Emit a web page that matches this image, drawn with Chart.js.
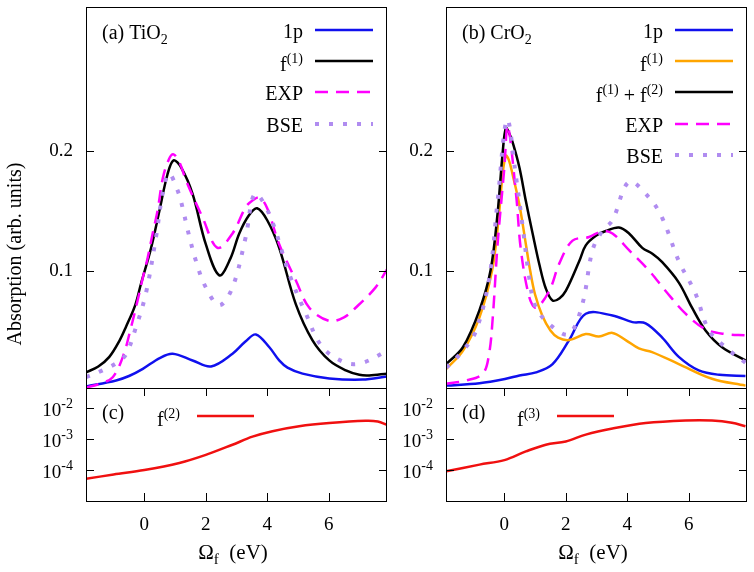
<!DOCTYPE html>
<html>
<head>
<meta charset="utf-8">
<script src="https://cdn.jsdelivr.net/npm/chart.js@4.4.1/dist/chart.umd.min.js"></script>
<style>
  html, body { margin: 0; padding: 0; background: #fff; }
  #fig { position: relative; width: 754px; height: 572px; overflow: hidden; }
  #fig canvas { position: absolute; }
</style>
</head>
<body>
<div id="fig">
  <canvas id="cA" width="390" height="390" style="left:0;top:0"></canvas>
  <canvas id="cB" width="390" height="390" style="left:360px;top:0"></canvas>
  <canvas id="cC" width="390" height="184" style="left:0;top:388px"></canvas>
  <canvas id="cD" width="390" height="184" style="left:360px;top:388px"></canvas>
</div>
<script>
// axis ranges / ticks
const eMin = -1.9, eMax = 7.9;
const energyTicks = [0, 2, 4, 6];
const absTicks = [0.1, 0.2];
const ratioTicks = [1e-4, 1e-3, 1e-2];

// (a) TiO2
const ti1pE = [-1.9, -0.92, -0.5, -0.05, 0.5, 0.92, 1.57, 2.17, 2.87, 3.3, 3.63, 4.07, 4.39, 4.66, 5.15, 6.02, 7.1, 7.9];
const ti1pA = [0.0033, 0.0083, 0.012, 0.018, 0.027, 0.0306, 0.025, 0.020, 0.0306, 0.041, 0.0467, 0.036, 0.025, 0.019, 0.014, 0.010, 0.009, 0.0117];
const tiF1E = [-1.9, -1.5, -1.14, -0.8, -0.6, -0.3, -0.11, 0.22, 0.49, 0.75, 0.95, 1.2, 1.57, 2.0, 2.44, 2.8, 3.09, 3.4, 3.67, 4.0, 4.39, 4.93, 5.47, 6.02, 6.56, 7.0, 7.32, 7.9];
const tiF1A = [0.015, 0.02, 0.028, 0.042, 0.053, 0.071, 0.089, 0.119, 0.15, 0.18, 0.192, 0.186, 0.164, 0.122, 0.096, 0.11, 0.131, 0.146, 0.152, 0.142, 0.119, 0.072, 0.042, 0.025, 0.0167, 0.013, 0.0125, 0.014];
const tiExpE = [-1.9, -1.4, -1.03, -0.7, -0.43, -0.22, -0.05, 0.11, 0.27, 0.43, 0.6, 0.8, 0.95, 1.15, 1.36, 1.9, 2.38, 2.87, 3.3, 3.5, 3.75, 4.0, 4.39, 4.93, 5.37, 6.02, 6.5, 6.88, 7.53, 7.9];
const tiExpA = [0.0022, 0.006, 0.011, 0.028, 0.053, 0.075, 0.094, 0.111, 0.131, 0.15, 0.177, 0.193, 0.197, 0.19, 0.175, 0.144, 0.119, 0.131, 0.153, 0.158, 0.161, 0.152, 0.122, 0.092, 0.069, 0.058, 0.061, 0.069, 0.086, 0.101];
const tiBseE = [-1.9, -1.36, -0.9, -0.6, -0.27, 0.05, 0.38, 0.6, 0.8, 1.08, 1.25, 1.4, 1.68, 2.0, 2.44, 2.87, 3.3, 3.6, 4.07, 4.72, 5.26, 5.8, 6.56, 7.1, 7.9];
const tiBseA = [0.011, 0.0167, 0.023, 0.03, 0.053, 0.081, 0.128, 0.165, 0.181, 0.167, 0.152, 0.135, 0.108, 0.086, 0.071, 0.086, 0.128, 0.164, 0.147, 0.097, 0.064, 0.036, 0.023, 0.023, 0.033];

// (b) CrO2
const cr1pE = [-1.89, -0.81, 0.05, 0.49, 1.03, 1.57, 2.11, 2.65, 3.52, 4.17, 4.6, 5.14, 5.68, 6.33, 7.0, 7.85];
const cr1pA = [0.004, 0.006, 0.0097, 0.0125, 0.015, 0.022, 0.042, 0.064, 0.0625, 0.057, 0.056, 0.044, 0.028, 0.0167, 0.013, 0.012];
const crF1E = [-1.89, -1.35, -0.81, -0.4, -0.2, -0.05, 0.05, 0.15, 0.27, 0.49, 0.7, 0.84, 1.0, 1.24, 1.5, 1.75, 2.11, 2.65, 3.08, 3.52, 3.95, 4.38, 4.81, 5.68, 6.76, 7.85];
const crF1A = [0.018, 0.033, 0.061, 0.1, 0.14, 0.182, 0.196, 0.192, 0.18, 0.155, 0.122, 0.1, 0.08, 0.062, 0.05, 0.044, 0.042, 0.047, 0.045, 0.048, 0.042, 0.035, 0.032, 0.022, 0.0097, 0.004];
const crF12E = [-1.89, -1.35, -0.81, -0.45, -0.22, -0.05, 0.05, 0.15, 0.27, 0.49, 0.7, 0.92, 1.15, 1.35, 1.57, 1.8, 2.0, 2.44, 2.65, 2.98, 3.3, 3.73, 4.06, 4.49, 4.82, 5.14, 5.68, 6.11, 6.55, 7.09, 7.85];
const crF12A = [0.022, 0.036, 0.067, 0.1, 0.148, 0.2, 0.219, 0.215, 0.207, 0.186, 0.158, 0.131, 0.104, 0.085, 0.075, 0.077, 0.083, 0.108, 0.121, 0.129, 0.133, 0.136, 0.131, 0.119, 0.114, 0.107, 0.09, 0.069, 0.05, 0.036, 0.025];
const crExpE = [-1.89, -1.24, -0.7, -0.5, -0.38, -0.22, 0, 0.11, 0.38, 0.54, 0.81, 1.03, 1.46, 1.79, 2.22, 2.76, 3.19, 3.52, 4.06, 4.71, 5.25, 5.9, 6.55, 7.2, 7.85];
const crExpA = [0.0055, 0.0083, 0.014, 0.03, 0.06, 0.122, 0.186, 0.221, 0.164, 0.117, 0.078, 0.069, 0.083, 0.106, 0.125, 0.128, 0.133, 0.131, 0.117, 0.1, 0.083, 0.064, 0.051, 0.047, 0.046];
const crBseE = [-1.89, -1.35, -0.92, -0.49, -0.22, 0.09, 0.38, 0.6, 0.81, 1.03, 1.57, 2.11, 2.54, 2.87, 3.19, 3.52, 4.06, 4.71, 5.14, 5.68, 6.22, 6.66, 7.2, 7.85];
const crBseA = [0.019, 0.033, 0.05, 0.094, 0.158, 0.226, 0.178, 0.136, 0.094, 0.069, 0.053, 0.047, 0.072, 0.117, 0.133, 0.142, 0.174, 0.161, 0.144, 0.108, 0.081, 0.05, 0.036, 0.023];

// (c) f(2), (d) f(3)
const tiF2E = [-1.9, -1.0, 0, 1.14, 2.0, 2.87, 3.52, 4.17, 5.04, 6.02, 7.2, 7.6, 7.9];
const tiF2A = [5.2e-5, 7.2e-5, 1.0e-4, 1.7e-4, 3.1e-4, 6.6e-4, 1.2e-3, 1.8e-3, 2.6e-3, 3.3e-3, 3.9e-3, 3.7e-3, 2.9e-3];
const crF3E = [-1.89, -0.81, 0, 0.7, 1.35, 2.0, 2.65, 3.52, 4.6, 5.9, 6.76, 7.41, 7.85];
const crF3A = [9.1e-5, 1.5e-4, 2.1e-4, 4.0e-4, 6.6e-4, 8.4e-4, 1.4e-3, 2.2e-3, 3.3e-3, 4.0e-3, 4.0e-3, 3.4e-3, 2.6e-3];

const FONT = '"Liberation Serif", "Times New Roman", serif';
const C_BLUE = "#1010ee", C_BLACK = "#000000", C_MAG = "#ff00ff", C_BSE = "#b08cf0", C_ORANGE = "#ffa500", C_RED = "#f01010";
const DASH_EXP = [13, 8], DASH_BSE = [4, 10];

// text with super/subscripts: parts = [[text, "sup"|"sub"|undefined], ...]
function rich(ctx, parts, x, y, align, size){
  size = size || 20;
  const small = Math.round(size * 0.72);
  const fnt = k => `${k ? small : size}px ${FONT}`;
  let w = 0;
  parts.forEach(([t,k]) => { ctx.font = fnt(k); w += ctx.measureText(t).width; });
  let cx = align === "right" ? x - w : align === "center" ? x - w/2 : x;
  ctx.textAlign = "left"; ctx.textBaseline = "alphabetic";
  parts.forEach(([t,k]) => {
    ctx.font = fnt(k);
    const dy = k === "sup" ? -8 : k === "sub" ? 5 : 0;
    ctx.fillText(t, cx, y + dy);
    cx += ctx.measureText(t).width;
  });
}

function line(ctx, x0, y0, x1, y1){
  ctx.beginPath(); ctx.moveTo(x0, y0); ctx.lineTo(x1, y1); ctx.stroke();
}

// frame with inward mirrored ticks, key, panel tag and axis titles
function makeFrame(spec){
  return {
    id: "frame",
    afterDraw(chart){
      const {ctx, chartArea: a, scales} = chart;
      ctx.save();
      ctx.strokeStyle = "#000"; ctx.lineWidth = 1; ctx.setLineDash([]);
      ctx.strokeRect(a.left + 0.5, a.top + 0.5, a.right - a.left - 1, a.bottom - a.top);
      const tl = 8;
      scales.y.ticks.forEach(t => {
        const p = Math.round(scales.y.getPixelForValue(t.value)) + 0.5;
        line(ctx, a.left, p, a.left + tl, p);
        line(ctx, a.right, p, a.right - tl, p);
      });
      if(spec.xTicks){
        scales.x.ticks.forEach(t => {
          const p = Math.round(scales.x.getPixelForValue(t.value)) + 0.5;
          line(ctx, p, a.top, p, a.top + tl);
          line(ctx, p, a.bottom, p, a.bottom - tl);
        });
      }
      ctx.fillStyle = "#000";
      if(spec.logLabels){
        scales.y.ticks.forEach(t => {
          const p = scales.y.getPixelForValue(t.value);
          const ex = Math.round(Math.log10(t.value));
          ctx.fillStyle = "#000";
          rich(ctx, [["10"], [String(ex), "sup"]], a.left - 13, p + 8, "right", 19);
        });
      }
      // panel tag
      rich(ctx, spec.tag, spec.tagX, spec.tagY, "left");
      // key
      spec.keys.forEach(k => {
        ctx.fillStyle = "#000";
        const hasSup = k.parts.some(p => p[1] === "sup");
        rich(ctx, k.parts, spec.keyTextX, k.y + (hasSup ? 10 : 8), spec.keyAlign);
        ctx.strokeStyle = k.color; ctx.lineWidth = k.width; ctx.lineCap = "butt";
        ctx.setLineDash(k.dash || []);
        line(ctx, spec.keyX0, k.y, spec.keyX1, k.y);
        ctx.setLineDash([]);
      });
      ctx.fillStyle = "#000";
      if(spec.yTitle){
        ctx.save();
        ctx.translate(16, 254);
        ctx.rotate(-Math.PI/2);
        ctx.font = `20px ${FONT}`;
        ctx.textAlign = "center"; ctx.textBaseline = "middle";
        ctx.fillText("Absorption (arb. units)", 0, 0);
        ctx.restore();
      }
      if(spec.xTitle){
        rich(ctx, [["Ω"], ["f", "sub"], ["  (eV)"]], 233, 171, "center", 21);
      }
      ctx.restore();
    }
  };
}

function ds(label, E, A, color, dash, width){
  return {
    label, data: E.map((e, i) => ({x: e, y: A[i]})),
    borderColor: color, borderWidth: width || 2.5, borderDash: dash || [],
    borderCapStyle: "butt", pointRadius: 0, fill: false,
    tension: 0.35
  };
}

function build(id, datasets, opt, spec){
  datasets.forEach((d, i) => { d.order = datasets.length - i; });
  const tickFont = {family: FONT, size: 19};
  const x = {
    type: "linear", min: eMin, max: eMax, display: !!opt.xLabels,
    grid: {display: false, drawTicks: false}, border: {display: false},
    ticks: {color: "#000", font: tickFont, padding: 13, maxRotation: 0},
    afterBuildTicks: s => { s.ticks = energyTicks.map(v => ({value: v})); },
    afterFit: s => { s.paddingLeft = 0; s.paddingRight = 0; if(opt.xLabels) s.height = 71; }
  };
  const y = opt.log ? {
    type: "logarithmic", min: 1e-5, max: 0.045,
    grid: {display: false, drawTicks: false}, border: {display: false},
    ticks: {display: false},
    afterBuildTicks: s => { s.ticks = ratioTicks.map(v => ({value: v})); },
    afterFit: s => { s.width = 86; s.paddingTop = 0; s.paddingBottom = 0; }
  } : {
    type: "linear", min: 0.002, max: 0.32,
    grid: {display: false, drawTicks: false}, border: {display: false},
    ticks: {color: "#000", font: tickFont, padding: 13, callback: v => String(v)},
    afterBuildTicks: s => { s.ticks = absTicks.map(v => ({value: v})); },
    afterFit: s => { s.width = 86; s.paddingTop = 0; s.paddingBottom = 0; }
  };
  return new Chart(document.getElementById(id), {
    type: "line",
    data: {datasets},
    options: {
      responsive: false, animation: false, devicePixelRatio: 1,
      layout: {padding: opt.pad},
      plugins: {legend: {display: false}, tooltip: {enabled: false}},
      scales: {x, y}
    },
    plugins: [makeFrame(spec)]
  });
}

const keyCommon = {keyAlign: "right", keyTextX: 303, keyX0: 315, keyX1: 373};

build("cA", [
  ds("1p", ti1pE, ti1pA, C_BLUE),
  ds("f(1)", tiF1E, tiF1A, C_BLACK),
  ds("EXP", tiExpE, tiExpA, C_MAG, DASH_EXP),
  ds("BSE", tiBseE, tiBseA, C_BSE, DASH_BSE, 4)
], {pad: {top: 7, right: 3, bottom: 2, left: 0}}, Object.assign({
  tag: [["(a) TiO"], ["2", "sub"]], tagX: 102, tagY: 39, yTitle: true,
  keys: [
    {parts: [["1p"]], color: C_BLUE, width: 2.5, y: 30},
    {parts: [["f"], ["(1)", "sup"]], color: C_BLACK, width: 2.5, y: 61},
    {parts: [["EXP"]], color: C_MAG, width: 2.5, dash: DASH_EXP, y: 92},
    {parts: [["BSE"]], color: C_BSE, width: 4, dash: DASH_BSE, y: 124}
  ]
}, keyCommon));

build("cB", [
  ds("1p", cr1pE, cr1pA, C_BLUE),
  ds("f(1)", crF1E, crF1A, C_ORANGE),
  ds("f(1)+f(2)", crF12E, crF12A, C_BLACK),
  ds("EXP", crExpE, crExpA, C_MAG, DASH_EXP),
  ds("BSE", crBseE, crBseA, C_BSE, DASH_BSE, 4)
], {pad: {top: 7, right: 3, bottom: 2, left: 0}}, Object.assign({
  tag: [["(b) CrO"], ["2", "sub"]], tagX: 102, tagY: 39,
  keys: [
    {parts: [["1p"]], color: C_BLUE, width: 2.5, y: 30},
    {parts: [["f"], ["(1)", "sup"]], color: C_ORANGE, width: 2.5, y: 61},
    {parts: [["f"], ["(1)", "sup"], [" + f"], ["(2)", "sup"]], color: C_BLACK, width: 2.5, y: 92},
    {parts: [["EXP"]], color: C_MAG, width: 2.5, dash: DASH_EXP, y: 124},
    {parts: [["BSE"]], color: C_BSE, width: 4, dash: DASH_BSE, y: 155}
  ]
}, keyCommon));

const bottomKey = {keyAlign: "left", keyTextX: 157, keyX0: 197, keyX1: 254, xTicks: true, logLabels: true, xTitle: true, tagX: 102, tagY: 31};

build("cC", [ds("f(2)", tiF2E, tiF2A, C_RED)],
  {pad: {top: 0, right: 3, bottom: 0, left: 0}, log: true, xLabels: true},
  Object.assign({tag: [["(c)"]], keys: [{parts: [["f"], ["(2)", "sup"]], color: C_RED, width: 2.5, y: 28}]}, bottomKey));

build("cD", [ds("f(3)", crF3E, crF3A, C_RED)],
  {pad: {top: 0, right: 3, bottom: 0, left: 0}, log: true, xLabels: true},
  Object.assign({tag: [["(d)"]], keys: [{parts: [["f"], ["(3)", "sup"]], color: C_RED, width: 2.5, y: 28}]}, bottomKey));
</script>
</body>
</html>
